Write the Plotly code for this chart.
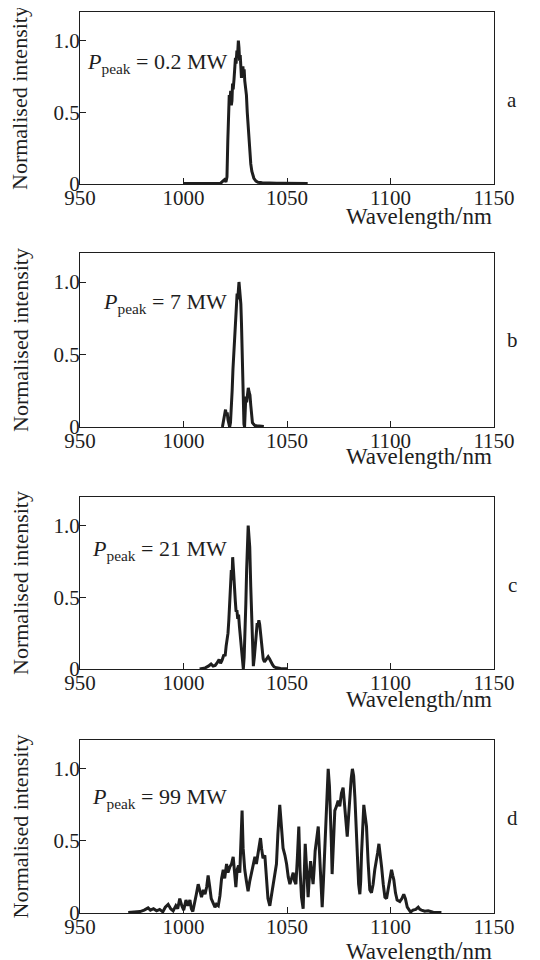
import plotly.graph_objects as go

# ---------------- data ----------------
wl_a = [1000, 1005, 1010, 1015, 1018, 1019, 1019.8, 1020.5, 1021, 1021.4, 1021.8, 1022.1, 1022.4, 1022.8,
        1023.1, 1023.4, 1023.7, 1024.0, 1024.4, 1024.8, 1025.1, 1025.4, 1025.8, 1026.1, 1026.5, 1026.8,
        1027.1, 1027.4, 1027.7, 1028.0, 1028.3, 1028.7, 1029.0, 1029.3, 1029.6, 1030.0, 1030.4, 1030.8,
        1031.2, 1031.6, 1032.0, 1032.5, 1033.0, 1033.5, 1034, 1035, 1036, 1038, 1040, 1042, 1045, 1048,
        1050, 1055, 1060]
int_a = [0.003, 0.003, 0.003, 0.004, 0.006, 0.02, 0.03, 0.015, 0.05, 0.3, 0.55, 0.62, 0.57, 0.65,
         0.55, 0.58, 0.7, 0.66, 0.73, 0.80, 0.88, 0.84, 0.93, 0.89, 1.0, 0.95,
         0.86, 0.90, 0.78, 0.74, 0.79, 0.82, 0.76, 0.80, 0.72, 0.68, 0.62, 0.50,
         0.40, 0.30, 0.22, 0.14, 0.09, 0.06, 0.04, 0.02, 0.012, 0.008, 0.006, 0.004, 0.006, 0.005,
         0.004, 0.003, 0.003]

wl_b = [1018.8, 1019.3, 1019.8, 1020.3, 1020.7, 1021.1, 1021.5, 1021.9, 1022.3, 1022.7, 1023.1, 1023.5,
        1023.9, 1024.3, 1024.7, 1025.1, 1025.5, 1025.9, 1026.2, 1026.5, 1026.8, 1027.1, 1027.4, 1027.7,
        1028.0, 1028.3, 1028.6, 1028.9, 1029.2, 1029.5, 1029.8, 1030.1, 1030.5, 1030.9, 1031.3, 1031.7,
        1032.1, 1032.5, 1032.9, 1033.3, 1033.8, 1034.5, 1035.5, 1037, 1038.8]
int_b = [0.0, 0.04, 0.09, 0.12, 0.08, 0.10, 0.05, 0.02, 0.0, 0.03, 0.12, 0.25,
         0.40, 0.52, 0.58, 0.70, 0.82, 0.92, 0.88, 0.97, 1.0, 0.95, 0.90, 0.85,
         0.72, 0.55, 0.35, 0.12, 0.02, 0.0, 0.12, 0.21, 0.17, 0.22, 0.27, 0.24,
         0.22, 0.15, 0.06, 0.03, 0.02, 0.01, 0.008, 0.005, 0.003]

wl_c = [1007.8, 1009, 1010.5, 1012, 1013.3, 1014.3, 1015.3, 1016.3, 1017.2, 1017.9, 1018.6, 1019.5,
        1020.1, 1020.6, 1021.0, 1021.5, 1021.9, 1022.3, 1022.7, 1023.1, 1023.45, 1023.75, 1024.1, 1024.5,
        1025.0, 1025.4, 1025.8, 1026.2, 1026.6, 1027.0, 1027.3, 1027.7, 1028.1, 1028.5, 1028.9, 1029.3,
        1029.7, 1030.1, 1030.5, 1030.9, 1031.25, 1031.6, 1032.0, 1032.5, 1033.1, 1033.5, 1033.75, 1034.2,
        1034.7, 1035.2, 1035.6, 1036.0, 1036.4, 1036.8, 1037.2, 1037.6, 1038.0, 1038.5, 1039.1, 1040.0,
        1040.9, 1041.6, 1042.2, 1043.0, 1043.75, 1045, 1046.9, 1050]
int_c = [0.0, 0.003, 0.008, 0.02, 0.035, 0.02, 0.025, 0.045, 0.065, 0.04, 0.06, 0.10,
         0.09, 0.16, 0.20, 0.25, 0.34, 0.45, 0.53, 0.69, 0.62, 0.78, 0.70, 0.55,
         0.48, 0.40, 0.41, 0.35, 0.38, 0.30, 0.25, 0.18, 0.11, 0.04, 0.0, 0.08,
         0.23, 0.45, 0.69, 0.92, 1.0, 0.93, 0.85, 0.57, 0.23, 0.06, 0.02, 0.08,
         0.16, 0.26, 0.32, 0.30, 0.34, 0.31, 0.25, 0.17, 0.11, 0.07, 0.05, 0.07,
         0.086, 0.07, 0.05, 0.03, 0.015, 0.008, 0.004, 0.002]

wl_d = [973.3, 976, 979, 981, 982.9, 984, 985.5, 987, 988.5, 990, 991.2, 992.6, 993.8, 995, 996.3, 997.2,
        998.2, 999.2, 1000.1, 1001.2, 1002.1, 1003.1, 1003.8, 1004.5, 1005.3, 1006.2, 1007.1, 1007.8,
        1008.7, 1009.6, 1010.4, 1011.2, 1011.9, 1012.6, 1013.4, 1014.3, 1015.2, 1015.9, 1016.8, 1017.6,
        1018.4, 1019.2, 1019.9, 1020.8, 1021.5, 1022.4, 1023.2, 1024.0, 1024.7, 1025.3, 1025.9, 1026.6,
        1027.2, 1027.8, 1028.3, 1028.8, 1029.6, 1030.4, 1031.2, 1032.0, 1032.8, 1033.7, 1034.5, 1035.2,
        1035.9, 1036.6, 1037.2, 1037.7, 1038.4, 1039.3, 1040.0, 1040.8, 1041.7, 1042.5, 1043.3, 1044.1,
        1044.9, 1045.6, 1046.5, 1047.2, 1048.1, 1049.0, 1049.8, 1050.6, 1051.4, 1052.2, 1053.0, 1053.7,
        1054.3, 1055.0, 1055.7, 1056.3, 1057.0, 1057.8, 1058.3, 1058.8, 1059.5, 1060.2, 1060.8, 1061.4,
        1062.0, 1062.6, 1063.1, 1063.6, 1064.4, 1065.1, 1065.7, 1066.2, 1067.0, 1067.6, 1068.3, 1069.1,
        1069.9, 1070.5, 1071.0, 1071.4, 1071.8, 1072.4, 1073.1, 1073.9, 1074.7, 1075.5, 1076.3, 1077.1,
        1077.6, 1077.9, 1078.5, 1079.1, 1079.8, 1080.4, 1081.0, 1081.6, 1082.2, 1082.8, 1083.4, 1083.9,
        1084.6, 1085.2, 1085.6, 1086.0, 1086.6, 1087.1, 1087.7, 1088.4, 1089.2, 1090.0, 1090.8, 1091.6,
        1092.4, 1093.2, 1093.8, 1094.4, 1095.0, 1095.7, 1096.5, 1097.3, 1098.1, 1098.9, 1099.7, 1100.5,
        1101.1, 1101.6, 1102.4, 1103.2, 1104.5, 1105.5, 1106.4, 1107.2, 1108.1, 1109.0, 1109.7, 1110.9,
        1112.2, 1113.4, 1114.2, 1115.0, 1116.5, 1118.2, 1120.6, 1122.5, 1124.6]
int_d = [0.003, 0.005, 0.01, 0.02, 0.035, 0.02, 0.03, 0.015, 0.025, 0.008, 0.04, 0.06, 0.03, 0.015, 0.05, 0.03,
         0.10, 0.05, 0.02, 0.09, 0.05, 0.09, 0.03, 0.01, 0.06, 0.13, 0.20, 0.15,
         0.11, 0.16, 0.13, 0.18, 0.26, 0.19, 0.10, 0.07, 0.04, 0.06, 0.05, 0.12,
         0.24, 0.30, 0.24, 0.34, 0.28, 0.32, 0.34, 0.39, 0.26, 0.18, 0.30, 0.33,
         0.28, 0.55, 0.71, 0.45, 0.30, 0.22, 0.15, 0.22, 0.28, 0.32, 0.39, 0.34,
         0.40, 0.46, 0.52, 0.45, 0.38, 0.40, 0.25, 0.10, 0.05, 0.12, 0.20, 0.26,
         0.34, 0.55, 0.75, 0.62, 0.45, 0.40, 0.34, 0.25, 0.20, 0.24, 0.28, 0.22,
         0.20, 0.38, 0.60, 0.30, 0.11, 0.03, 0.25, 0.48, 0.30, 0.11, 0.25, 0.36,
         0.28, 0.20, 0.30, 0.43, 0.52, 0.60, 0.42, 0.28, 0.04, 0.22, 0.43, 0.70,
         1.0, 0.88, 0.73, 0.50, 0.27, 0.45, 0.71, 0.74, 0.78, 0.74, 0.83, 0.87,
         0.78, 0.71, 0.60, 0.53, 0.68, 0.83, 0.93, 1.0, 0.95, 0.80, 0.58, 0.36,
         0.20, 0.13, 0.22, 0.41, 0.62, 0.75, 0.68, 0.60, 0.35, 0.16, 0.14, 0.20,
         0.30, 0.36, 0.42, 0.48, 0.42, 0.32, 0.20, 0.11, 0.10, 0.16, 0.22, 0.30,
         0.26, 0.23, 0.14, 0.09, 0.08, 0.10, 0.13, 0.10, 0.04, 0.02, 0.007, 0.02,
         0.025, 0.04, 0.025, 0.02, 0.012, 0.015, 0.005, 0.004, 0.003]

panel_letters = ["a", "b", "c", "d"]
peak_powers = ["0.2", "7", "21", "99"]
x_ticks = [950, 1000, 1050, 1100, 1150]
y_ticks = [0, 0.5, 1.0]
y_ticktext = ["0", "0.5", "1.0"]
y_title = "Normalised intensity"

series = [(wl_a, int_a), (wl_b, int_b), (wl_c, int_c), (wl_d, int_d)]

# ---------------- layout ----------------
# The page body has an 8 px default margin, so the figure is made 8 px
# smaller in each direction and the plot area keeps its target position.
OFF = 8
W, H = 540 - OFF, 960 - OFF
ML, MR, MT, MB = 80 - OFF, 46, 12 - OFF, 47
PLOT_L, PLOT_R, PLOT_T, PLOT_B = 80, 494, 12, 913     # page pixels of the plot area
plot_w = PLOT_R - PLOT_L
plot_h = PLOT_B - PLOT_T


def px(xp):
    return (xp - PLOT_L) / plot_w


def py(yp):
    return (PLOT_B - yp) / plot_h


panel_px = [(12, 184), (253, 427), (497, 669), (740, 913)]   # top, bottom of each panel
domains = [[py(b), py(t)] for t, b in panel_px]
xtitle_y = [215, 455, 698, 950]
letter_y = [100, 340, 585, 818]
plabel_y = [63, 303, 550, 798]

FONT = "Liberation Serif, Times New Roman, serif"
INK = "#1e1e1e"

fig = go.Figure()
annotations = []
for i, (wl, iv) in enumerate(series):
    n = i + 1
    xa = "x" if n == 1 else f"x{n}"
    ya = "y" if n == 1 else f"y{n}"
    fig.add_trace(go.Scatter(x=wl, y=iv, mode="lines", xaxis=xa, yaxis=ya,
                             line=dict(color=INK, width=3.0), showlegend=False,
                             hoverinfo="skip"))
    axis_common = dict(showline=True, linecolor=INK, linewidth=1.3, mirror=True,
                       ticks="inside", ticklen=6, tickwidth=1.1, tickcolor=INK,
                       showgrid=False, zeroline=False,
                       tickfont=dict(family=FONT, size=21, color=INK))
    fig.update_layout(**{
        ("xaxis" if n == 1 else f"xaxis{n}"): dict(
            range=[950, 1150], tickvals=x_ticks, anchor=ya, domain=[0, 1],
            ticklabelstandoff=-5, **axis_common),
        ("yaxis" if n == 1 else f"yaxis{n}"): dict(
            range=[0, 1.2], tickvals=y_ticks, ticktext=y_ticktext, anchor=xa,
            domain=domains[i], ticklabelstandoff=-5, **axis_common),
    })
    d0, d1 = domains[i]
    mid = (d0 + d1) / 2
    # y title
    annotations.append(dict(text=y_title, xref="paper", yref="paper",
                            x=px(20), y=mid, xanchor="center", yanchor="middle",
                            textangle=-90, showarrow=False,
                            font=dict(family=FONT, size=22, color=INK)))
    # x title
    annotations.append(dict(text="Wavelength<span style='font-size:26px'>/</span>nm",
                            xref="paper", yref="paper",
                            x=1.0, y=py(xtitle_y[i]), xanchor="right", yanchor="middle",
                            showarrow=False, font=dict(family=FONT, size=23, color=INK)))
    # panel letter
    annotations.append(dict(text=panel_letters[i], xref="paper", yref="paper",
                            x=px(512), y=py(letter_y[i]), xanchor="center", yanchor="middle",
                            showarrow=False, font=dict(family=FONT, size=21, color=INK)))
    # P_peak label
    annotations.append(dict(text=f"<i>P</i><sub>peak</sub> = {peak_powers[i]} MW",
                            xref="paper", yref="paper",
                            x=px(229), y=py(plabel_y[i]), xanchor="right", yanchor="middle",
                            showarrow=False, font=dict(family=FONT, size=22, color=INK)))

fig.update_layout(width=W, height=H, margin=dict(l=ML, r=MR, t=MT, b=MB, autoexpand=False),
                  paper_bgcolor="white", plot_bgcolor="white",
                  annotations=annotations, font=dict(family=FONT, color=INK))

fig.write_html("out.html")
